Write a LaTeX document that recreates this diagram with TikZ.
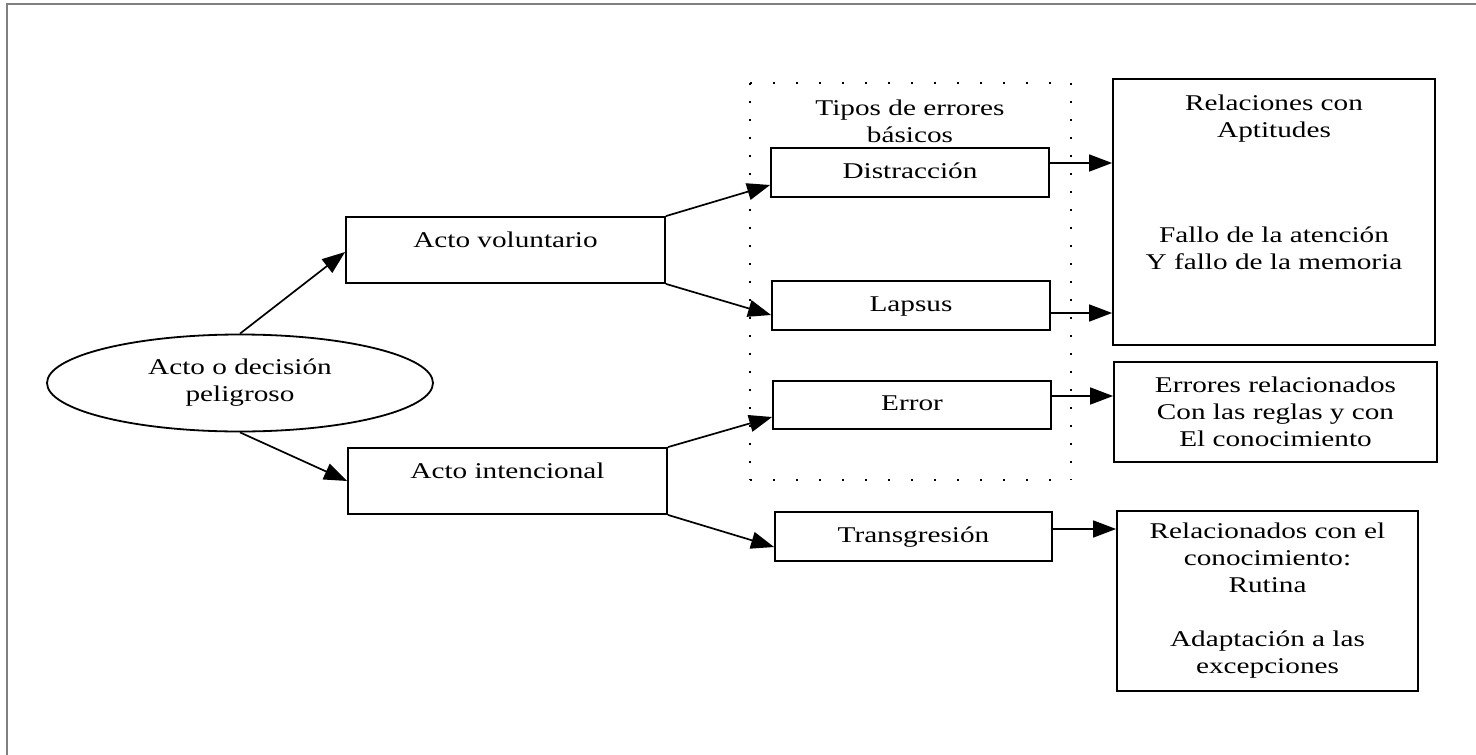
\documentclass[tikz,border=0pt]{standalone}
\usepackage{fontspec}
\setmainfont{Liberation Serif}[FakeStretch=1.3]
\usetikzlibrary{arrows.meta, shapes.geometric}

\tikzset{
    every node/.style={font=\fontsize{22.5}{27}\selectfont, inner sep=0pt, align=center},
    box/.style={draw, rectangle, line width=1.8pt},
    actbox/.style={box, minimum width=319pt, minimum height=66pt, text height=16pt, text depth=22pt},
    typebox/.style={box, minimum width=278pt, minimum height=49pt, text height=16pt, text depth=5pt},
    arr/.style={line width=1.7pt, -{Triangle[length=23pt, width=17pt]}},
    dots/.style={line width=2.4pt, line cap=butt}
}

\begin{document}
\begin{tikzpicture}[x=1pt, y=-1pt]
        % Fix the page size
        \useasboundingbox (0,0) rectangle (1476,755);
        % Frame of the figure (only top and left edges are visible)
        \draw[line width=2pt, gray] (6.5,755) -- (6.5,4) -- (1476,4);

        % Starting point
        \node[draw, ellipse, line width=1.8pt, minimum width=386pt, minimum height=97pt] (acto) at (240,383) {Acto o decisión\\peligroso};

        % Kind of act
        \node[actbox] (vol) at (505.5,250) {Acto voluntario};
        \node[actbox] (int) at (507.5,481) {Acto intencional};

        % Group of basic errors
        \def\gl{750} \def\gr{1071} \def\gt{83} \def\gb{480}
        \draw[dots, dash pattern=on 2.4pt off 20.6pt] (\gl,\gt) -- (\gr,\gt);
        \draw[dots, dash pattern=on 2.4pt off 20.6pt] (\gl,\gb) -- (\gr,\gb);
        \draw[dots, dash pattern=on 2.4pt off 15.6pt] (\gl,\gt) -- (\gl,\gb);
        \draw[dots, dash pattern=on 2.4pt off 15.6pt] (\gr,\gt) -- (\gr,\gb);
        \node (tipos) at (910,121) {Tipos de errores\\básicos};

        \node[typebox] (dis) at (910,172.5) {Distracción};
        \node[typebox] (lap) at (911,305.5) {Lapsus};
        \node[typebox, minimum height=48pt] (err) at (912,405) {Error};
        \node[typebox, minimum width=277pt] (tra) at (913.5,536.5) {Transgresión};

        % Relations
        \node[box, minimum width=322pt, minimum height=266pt] (rel) at (1274,212)
            {Relaciones con\\Aptitudes\\[78pt]Fallo de la atención\\Y fallo de la memoria\\[33pt]\mbox{}};
        \node[box, minimum width=323pt, minimum height=100pt] (reg) at (1275.5,412)
            {Errores relacionados\\Con las reglas y con\\El conocimiento};
        \node[box, minimum width=301pt, minimum height=180pt] (con) at (1267.5,601)
            {Relacionados con el\\conocimiento:\\Rutina\\[27pt]Adaptación a las\\excepciones};

        % Arrows from the starting point
        \draw[arr] (acto.north) -- ([yshift=-2pt]vol.west);
        \draw[arr] (acto.south) -- (int.west);

        % Arrows to the basic errors
        \draw[arr] (vol.north east) -- ([yshift=-12.5pt]dis.west);
        \draw[arr] (vol.south east) -- ([yshift=-9.5pt]lap.west);
        \draw[arr] (int.north east) -- ([yshift=-12pt]err.west);
        \draw[arr] (int.south east) -- ([yshift=-10.5pt]tra.west);

        % Arrows to the relations
        \coordinate (d1) at ([yshift=9.5pt]dis.east);
        \coordinate (l1) at ([yshift=-7.5pt]lap.east);
        \coordinate (e1) at ([yshift=9pt]err.east);
        \coordinate (t1) at ([yshift=7.5pt]tra.east);
        \draw[arr] (d1) -- (d1 -| rel.west);
        \draw[arr] (l1) -- (l1 -| rel.west);
        \draw[arr] (e1) -- (e1 -| reg.west);
        \draw[arr] (t1) -- (t1 -| con.west);
    \end{tikzpicture}
\end{document}
